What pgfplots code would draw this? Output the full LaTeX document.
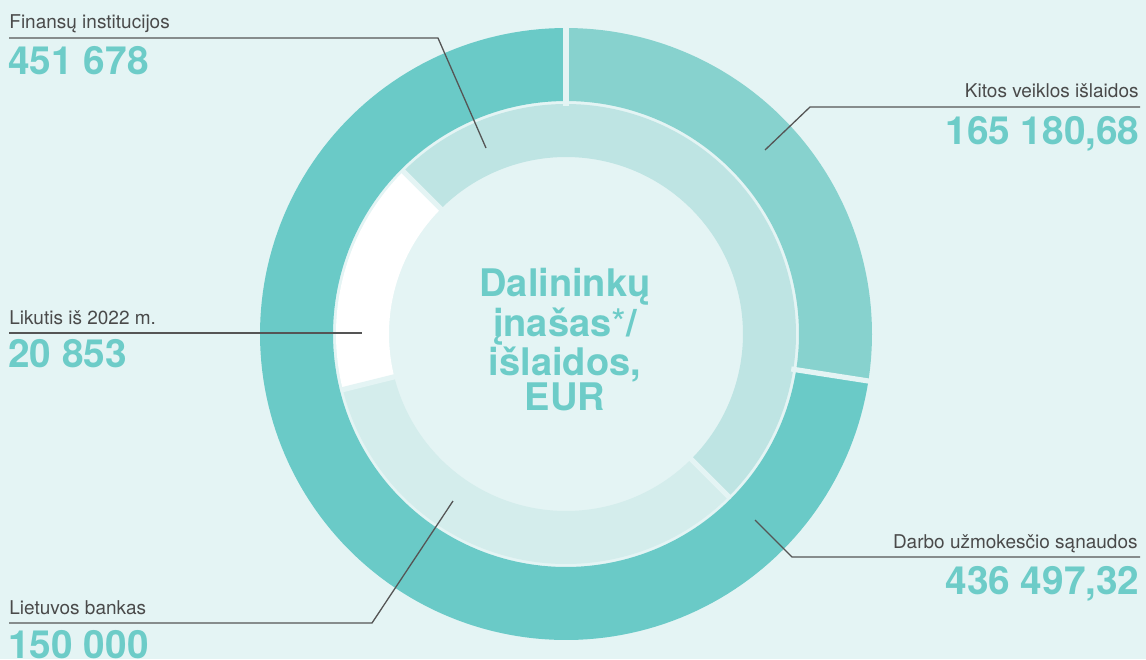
\documentclass[border=0pt]{standalone}
\usepackage{pgfplots}
\pgfplotsset{compat=1.18}
\usepackage{fontspec}
\setmainfont{TeX Gyre Heros}
\definecolor{bgc}{HTML}{E4F4F4}
\definecolor{tealD}{HTML}{6ACAC7}
\definecolor{tealK}{HTML}{87D2CE}
\definecolor{inF}{HTML}{BEE4E3}
\definecolor{inL}{HTML}{D4EDEC}
\definecolor{numc}{HTML}{6DCCC8}
\definecolor{lblc}{HTML}{4A4A4A}
\definecolor{linec}{HTML}{555555}
% ---- data (EUR) ----
% outer ring: expenses
\def\vKitos{165180.68}
\def\vDarbo{436497.32}
% inner ring: contributions (as drawn in the source, angles)
\def\vFin{451678}
\def\vLik{20853}
\def\vLB{150000}
\def\aFinS{-45}\def\aFinE{135}
\def\aLBS{135}\def\aLBE{256}
\def\aLikS{256}\def\aLikE{315}
\edef\aK{\fpeval{360*\vKitos/(\vKitos+\vDarbo)}}
\def\cx{566}\def\cy{334}
\newcommand\lbl{\fontsize{9.5}{11}\selectfont}
\newcommand\num{\fontsize{19.4}{20}\selectfont\bfseries}
\begin{document}
\begin{tikzpicture}
\fill[bgc] (0,0) rectangle (573pt,329.5pt);
\begin{axis}[
  at={(0,0)}, anchor=south west,
  width=573pt, height=329.5pt, scale only axis,
  xmin=0, xmax=1146, ymin=0, ymax=659, y dir=reverse,
  hide axis, clip=false,
]
% outer ring (r 233..306)
\addplot[tealK, line width=36.5pt, domain=0:\aK, samples=80, no marks]
  ({\cx+269.5*sin(x)}, {\cy-269.5*cos(x)});
\addplot[tealD, line width=36.5pt, domain=\aK:360, samples=160, no marks]
  ({\cx+269.5*sin(x)}, {\cy-269.5*cos(x)});
% inner ring (r 177..230)
\addplot[inF, line width=26.5pt, domain=\aFinS:\aFinE, samples=120, no marks]
  ({\cx+203.5*sin(x)}, {\cy-203.5*cos(x)});
\addplot[inL, line width=26.5pt, domain=\aLBS:\aLBE, samples=80, no marks]
  ({\cx+203.5*sin(x)}, {\cy-203.5*cos(x)});
\addplot[white, line width=26.5pt, domain=\aLikS:\aLikE, samples=60, no marks]
  ({\cx+203.5*sin(x)}, {\cy-203.5*cos(x)});
% separators
\foreach \a in {0,\aK}{
  \edef\temp{\noexpand\addplot[bgc, line width=2.6pt, domain=228:312, samples=2, no marks]
  ({\cx+x*sin(\a)}, {\cy-x*cos(\a)});}\temp
}
\foreach \a in {\aFinE,\aLBE,\aLikE}{
  \edef\temp{\noexpand\addplot[bgc, line width=2.6pt, domain=170:232, samples=2, no marks]
  ({\cx+x*sin(\a)}, {\cy-x*cos(\a)});}\temp
}
% leader lines
\draw[linec, line width=0.65pt] (axis cs:9,38) -- (axis cs:438,38) -- (axis cs:486,148);
\draw[linec, line width=0.65pt] (axis cs:1140,107) -- (axis cs:810,107) -- (axis cs:765,150);
\draw[linec, line width=0.65pt] (axis cs:9,333) -- (axis cs:362,333);
\draw[linec, line width=0.65pt] (axis cs:1140,557) -- (axis cs:792,557) -- (axis cs:755,520);
\draw[linec, line width=0.65pt] (axis cs:9,623) -- (axis cs:372,623) -- (axis cs:453,501);
% labels
\node[anchor=base west, inner sep=0, font=\lbl, text=lblc] at (axis cs:9,28) {Finansų institucijos};
\node[anchor=base west, inner sep=0, font=\num, text=numc] at (axis cs:8,74) {451 678};
\node[anchor=base east, inner sep=0, font=\lbl, text=lblc] at (axis cs:1139,97) {Kitos veiklos išlaidos};
\node[anchor=base east, inner sep=0, font=\num, text=numc] at (axis cs:1140,144) {165 180,68};
\node[anchor=base west, inner sep=0, font=\lbl, text=lblc] at (axis cs:9,324) {Likutis iš 2022 m.};
\node[anchor=base west, inner sep=0, font=\num, text=numc] at (axis cs:8,367) {20 853};
\node[anchor=base east, inner sep=0, font=\lbl, text=lblc] at (axis cs:1138,548) {Darbo užmokesčio sąnaudos};
\node[anchor=base east, inner sep=0, font=\num, text=numc] at (axis cs:1140,594) {436 497,32};
\node[anchor=base west, inner sep=0, font=\lbl, text=lblc] at (axis cs:9,614) {Lietuvos bankas};
\node[anchor=base west, inner sep=0, font=\num, text=numc] at (axis cs:8,658) {150 000};
% centre
\node[align=center, inner sep=0, font=\fontsize{19}{17.7}\selectfont\bfseries, text=numc] at (axis cs:565,340)
  {Dalininkų\\įnašas{\mdseries*}/\\išlaidos,\\EUR};
\end{axis}
\end{tikzpicture}
\end{document}
